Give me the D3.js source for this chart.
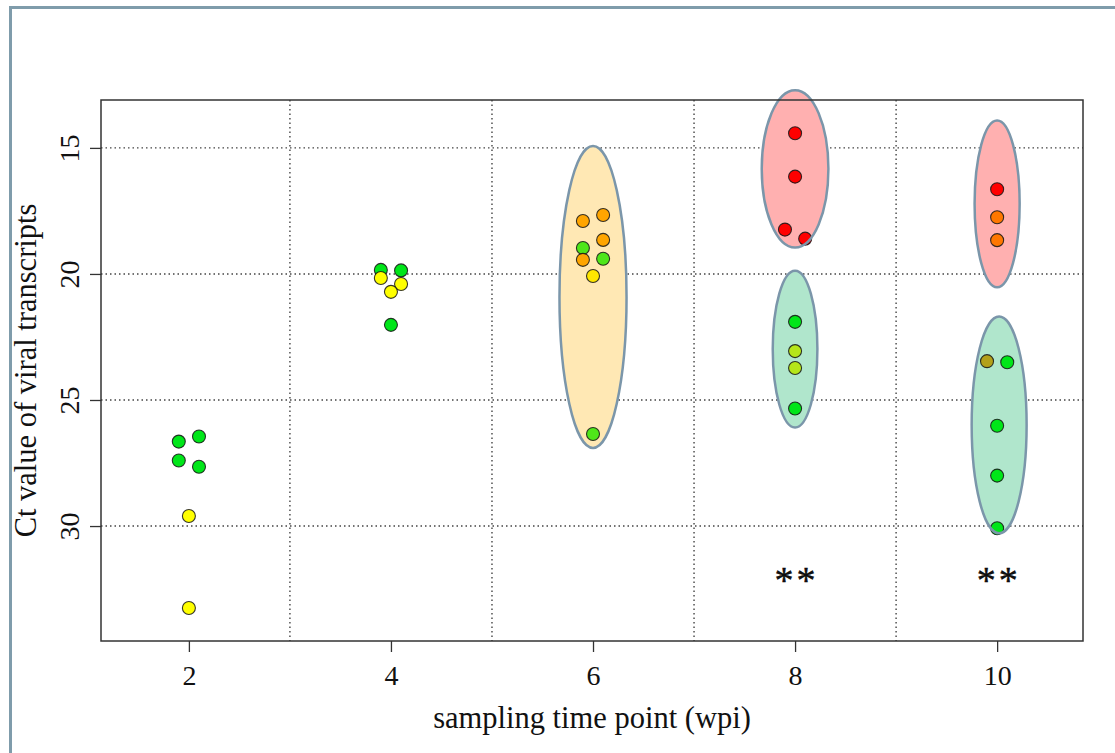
<!DOCTYPE html>
<html>
<head>
<meta charset="utf-8">
<script src="https://cdn.jsdelivr.net/npm/d3@7"></script>
<style>
  html, body { margin: 0; padding: 0; background: #fff; }
  svg { display: block; }
  text { font-family: "Liberation Serif", "Times New Roman", serif; fill: #111; }
</style>
</head>
<body>
<svg id="chart" width="1115" height="753"></svg>
<script>
// ---- data ----
const xTicks = [2, 4, 6, 8, 10];
const yTicks = [15, 20, 25, 30];
const xGrid = [3, 5, 7, 9];

const ptWpi = [1.9, 2.1, 1.9, 2.1, 2.0, 2.0,
               3.9, 4.1, 3.9, 4.1, 4.0, 4.0,
               5.9, 6.1, 6.1, 5.9, 5.9, 6.1, 6.0, 6.0,
               8.0, 8.0, 7.9, 8.1, 8.0, 8.0, 8.0, 8.0,
               10.0, 10.0, 10.0, 9.9, 10.1, 10.0, 10.0, 10.0];
const ptCt  = [26.65, 26.45, 27.4, 27.65, 29.6, 33.25,
               19.84, 19.86, 20.16, 20.4, 20.71, 22.02,
               17.9, 17.66, 18.65, 18.97, 19.44, 19.4, 20.08, 26.35,
               14.42, 16.14, 18.24, 18.6, 21.9, 23.06, 23.73, 25.34,
               16.64, 17.75, 18.66, 23.46, 23.5, 26.02, 28.0, 30.09];
const ptColor = ["#00e619", "#00e619", "#00e619", "#00e619", "#ffff00", "#ffff00",
                 "#00e619", "#00e619", "#ffff00", "#ffff00", "#ffff00", "#00e619",
                 "#ffa500", "#ffa500", "#ffa500", "#4fe61a", "#ffa500", "#4fe61a", "#ffe600", "#4fe61a",
                 "#ff0000", "#ff0000", "#ff0000", "#ff0000", "#00e619", "#b5e61a", "#b5e61a", "#00e619",
                 "#ff0000", "#ff7700", "#ff7700", "#b3a01a", "#00e619", "#00e619", "#00e619", "#00e619"];

const ellWpi = [6.0, 8.0, 8.0, 10.0, 10.02];
const ellCt  = [20.91, 15.83, 22.98, 17.22, 25.99];
const ellRx  = [0.332, 0.33, 0.221, 0.223, 0.272];   // half-width, wpi units
const ellRy  = [5.99, 3.12, 3.11, 3.31, 4.30];       // half-height, Ct units
const ellColor = ["#ffe8b4", "#ffb0b0", "#b0e6cc", "#ffb0b0", "#b0e6cc"];

const sigWpi = [8, 10];
const sigCt = [32.66, 32.66];
const sigLabel = ["**", "**"];

// ---- layout ----
const svg = d3.select("#chart");
const L = 101, T = 100, R = 1083, B = 641;

const x = d3.scaleLinear().domain([1.13, 10.85]).range([L, R]);
const y = d3.scaleLinear().domain([13.1, 34.56]).range([T, B]);

// outer frame
svg.append("rect")
  .attr("x", 10.5).attr("y", 7.5).attr("width", 1200).attr("height", 900)
  .attr("fill", "none").attr("stroke", "#7f9cab").attr("stroke-width", 3);

// grid
const grid = svg.append("g").attr("stroke", "#444").attr("stroke-width", 1.4)
  .attr("stroke-dasharray", "1.5,3");
grid.selectAll("line.v").data(xGrid).join("line")
  .attr("x1", d => x(d)).attr("x2", d => x(d)).attr("y1", T).attr("y2", B);
grid.selectAll("line.h").data(yTicks).join("line")
  .attr("x1", L).attr("x2", R).attr("y1", d => y(d)).attr("y2", d => y(d));

// ellipses (fill)
const ellIdx = d3.range(ellWpi.length);
svg.append("g").selectAll("ellipse").data(ellIdx).join("ellipse")
  .attr("cx", i => x(ellWpi[i]))
  .attr("cy", i => y(ellCt[i]))
  .attr("rx", i => x(ellWpi[i] + ellRx[i]) - x(ellWpi[i]))
  .attr("ry", i => y(ellCt[i] + ellRy[i]) - y(ellCt[i]))
  .attr("fill", i => ellColor[i]);

// points
const ptIdx = d3.range(ptWpi.length);
svg.append("g").selectAll("circle").data(ptIdx).join("circle")
  .attr("cx", i => x(ptWpi[i]))
  .attr("cy", i => y(ptCt[i]))
  .attr("r", 6.5)
  .attr("fill", i => ptColor[i])
  .attr("stroke", "rgba(20,20,20,0.85)")
  .attr("stroke-width", 1.1);

// ellipse outlines on top
svg.append("g").selectAll("ellipse").data(ellIdx).join("ellipse")
  .attr("cx", i => x(ellWpi[i]))
  .attr("cy", i => y(ellCt[i]))
  .attr("rx", i => x(ellWpi[i] + ellRx[i]) - x(ellWpi[i]))
  .attr("ry", i => y(ellCt[i] + ellRy[i]) - y(ellCt[i]))
  .attr("fill", "none")
  .attr("stroke", "#7b96aa").attr("stroke-width", 2.5);

// plot box
svg.append("rect").attr("x", L).attr("y", T).attr("width", R - L).attr("height", B - T)
  .attr("fill", "none").attr("stroke", "#333").attr("stroke-width", 1.5);

// x axis
const xAxis = d3.axisBottom(x).tickValues(xTicks).tickSize(11).tickFormat(d3.format("d"));
const gx = svg.append("g").attr("transform", `translate(0,${B})`).call(xAxis);
gx.select(".domain").remove();
gx.selectAll(".tick line").attr("stroke", "#333").attr("stroke-width", 1.3);
gx.selectAll(".tick text").attr("font-size", 28).attr("dy", "1.07em")
  .attr("font-family", "Liberation Serif").attr("fill", "#111");

// y axis
const yAxis = d3.axisLeft(y).tickValues(yTicks).tickSize(11).tickFormat(d3.format("d"));
const gy = svg.append("g").attr("transform", `translate(${L},0)`).call(yAxis);
gy.select(".domain").remove();
gy.selectAll(".tick line").attr("stroke", "#333").attr("stroke-width", 1.3);
gy.selectAll(".tick text")
  .attr("font-size", 28).attr("font-family", "Liberation Serif").attr("fill", "#111")
  .attr("x", 0).attr("dy", 0)
  .attr("text-anchor", "middle")
  .attr("transform", "translate(-22,0) rotate(-90)");

// axis titles
svg.append("text").attr("x", 592).attr("y", 728)
  .attr("text-anchor", "middle").attr("font-size", 30.5)
  .text("sampling time point (wpi)");
svg.append("text")
  .attr("transform", `translate(36,${(T + B) / 2}) rotate(-90)`)
  .attr("text-anchor", "middle").attr("font-size", 30.5)
  .text("Ct value of viral transcripts");

// significance marks
svg.append("g").selectAll("text").data(d3.range(sigWpi.length)).join("text")
  .attr("x", i => x(sigWpi[i]) + 1.5).attr("y", i => y(sigCt[i]))
  .attr("text-anchor", "middle").attr("font-size", 38)
  .attr("letter-spacing", 3)
  .attr("fill", "#000").attr("stroke", "#000").attr("stroke-width", 0.45)
  .text(i => sigLabel[i]);
</script>
</body>
</html>
